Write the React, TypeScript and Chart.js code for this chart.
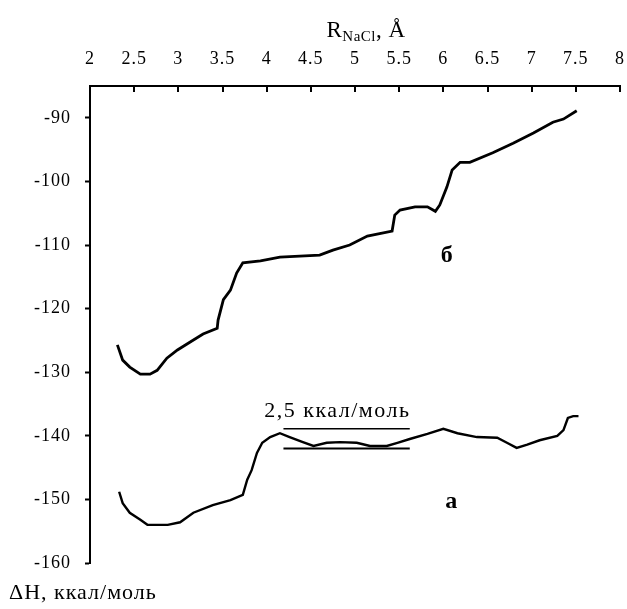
import React, { useEffect, useRef } from "react";
import { Chart, registerables } from "chart.js";

Chart.register(...registerables);

// Axis ticks
const xTickValues = [2, 2.5, 3, 3.5, 4, 4.5, 5, 5.5, 6, 6.5, 7, 7.5, 8];
const yTickValues = [-160, -150, -140, -130, -120, -110, -100, -90];

// Curve б (upper)
const curveBX = [2.31, 2.37, 2.45, 2.57, 2.68, 2.76, 2.87, 2.99, 3.13, 3.28, 3.44, 3.45, 3.51, 3.59, 3.66, 3.73, 3.93, 4.15, 4.6, 4.75, 4.94, 5.14, 5.42, 5.45, 5.51, 5.68, 5.82, 5.91, 5.96, 6.04, 6.1, 6.19, 6.3, 6.56, 6.79, 7.02, 7.24, 7.36, 7.51];
const curveBY = [-125.7, -128.1, -129.2, -130.3, -130.3, -129.7, -127.8, -126.5, -125.3, -124.0, -123.1, -121.8, -118.6, -117.1, -114.4, -112.8, -112.5, -111.9, -111.6, -110.8, -110.0, -108.6, -107.8, -105.3, -104.5, -104.0, -104.0, -104.7, -103.7, -100.9, -98.2, -97.0, -97.0, -95.5, -94.0, -92.4, -90.7, -90.2, -88.9];

// Curve а (lower)
const curveAX = [2.33, 2.37, 2.45, 2.57, 2.65, 2.88, 3.02, 3.17, 3.39, 3.59, 3.73, 3.78, 3.83, 3.89, 3.95, 4.04, 4.15, 4.26, 4.41, 4.53, 4.68, 4.83, 5.02, 5.17, 5.36, 5.48, 5.62, 5.82, 6.0, 6.16, 6.38, 6.61, 6.72, 6.83, 6.95, 7.09, 7.29, 7.36, 7.41, 7.47, 7.53];
const curveAY = [-148.8, -150.6, -152.1, -153.2, -154.0, -154.0, -153.6, -152.1, -150.9, -150.1, -149.3, -146.9, -145.4, -142.7, -141.1, -140.2, -139.6, -140.2, -141.0, -141.6, -141.1, -141.0, -141.1, -141.6, -141.6, -141.1, -140.5, -139.7, -138.9, -139.6, -140.2, -140.3, -141.1, -141.9, -141.4, -140.7, -140.0, -139.1, -137.2, -136.9, -136.9];

// 2,5 ккал/моль reference band
const refLineX = [4.19, 5.62];
const refUpperY = [-138.9, -138.9];
const refLowerY = [-142.0, -142.0];

const SERIF = '"Liberation Serif", "Times New Roman", serif';

const toPoints = (xs: number[], ys: number[]) => xs.map((x, i) => ({ x, y: ys[i] }));

const annotationsPlugin = {
  id: "customText",
  beforeDraw(chart: any) {
    (chart.ctx as any).letterSpacing = "1px";
  },
  afterDraw(chart: any) {
    const ctx = chart.ctx as any;
    const xs = chart.scales.x;
    const ys = chart.scales.y;
    const area = chart.chartArea;
    ctx.save();
    ctx.fillStyle = "#000";
    ctx.strokeStyle = "#000";

    // inward tick marks on top x axis
    ctx.lineWidth = 2;
    for (const v of xTickValues) {
      if (v === xs.min) continue;
      const px = Math.round(xs.getPixelForValue(v));
      ctx.beginPath();
      ctx.moveTo(px, area.top);
      ctx.lineTo(px, area.top + 6);
      ctx.stroke();
    }

    // x axis title R_NaCl, Å
    ctx.letterSpacing = "0.5px";
    const big = `23px ${SERIF}`;
    const small = `15px ${SERIF}`;
    ctx.textBaseline = "alphabetic";
    ctx.textAlign = "left";
    ctx.font = big;
    const wR = ctx.measureText("R").width;
    const wTail = ctx.measureText(", Å").width;
    ctx.font = small;
    const wSub = ctx.measureText("NaCl").width;
    const total = wR + wSub + wTail;
    let tx = xs.getPixelForValue(5.125) - total / 2;
    const ty = area.top - 49;
    ctx.font = big;
    ctx.fillText("R", tx, ty);
    tx += wR;
    ctx.font = small;
    ctx.fillText("NaCl", tx, ty + 4);
    tx += wSub;
    ctx.font = big;
    ctx.fillText(", Å", tx, ty);

    // y axis title below axis
    ctx.letterSpacing = "1px";
    ctx.font = `22px ${SERIF}`;
    ctx.fillText("ΔH, ккал/моль", area.left - 81, area.bottom + 36);

    // band label
    ctx.letterSpacing = "1.5px";
    ctx.textAlign = "left";
    ctx.font = `22px ${SERIF}`;
    const bandText = "2,5 ккал/моль";
    const bw = ctx.measureText(bandText).width;
    ctx.fillText(bandText, xs.getPixelForValue(4.8) - bw / 2, ys.getPixelForValue(-137.0));

    // curve labels
    ctx.letterSpacing = "0px";
    ctx.textAlign = "center";
    ctx.font = `bold 24px ${SERIF}`;
    ctx.textBaseline = "middle";
    ctx.fillText("б", xs.getPixelForValue(6.04), ys.getPixelForValue(-111.7));
    ctx.fillText("а", xs.getPixelForValue(6.09), ys.getPixelForValue(-150.3));
    ctx.restore();
  },
};

export default function App() {
  const canvasRef = useRef<HTMLCanvasElement | null>(null);

  useEffect(() => {
    if (!canvasRef.current) return;
    const lineDs = (label: string, xs: number[], ys: number[], w: number) => ({
      label,
      data: toPoints(xs, ys),
      borderColor: "#000",
      backgroundColor: "#000",
      borderWidth: w,
      pointRadius: 0,
      tension: 0,
      fill: false,
    });
    const chart = new Chart(canvasRef.current, {
      type: "line",
      data: {
        datasets: [
          lineDs("б", curveBX, curveBY, 2.8),
          lineDs("а", curveAX, curveAY, 2.4),
          lineDs("upper", refLineX, refUpperY, 1.5),
          lineDs("lower", refLineX, refLowerY, 1.8),
        ],
      },
      options: {
        responsive: false,
        animation: false,
        layout: { padding: { left: 0, right: 7, top: 0, bottom: 46 } },
        plugins: {
          legend: { display: false },
          tooltip: { enabled: false },
        },
        scales: {
          x: {
            type: "linear",
            position: "top",
            min: 2,
            max: 8,
            afterBuildTicks: (s: any) => {
              s.ticks = xTickValues.map((v) => ({ value: v }));
            },
            afterFit: (s: any) => {
              s.height = 86;
              s.paddingLeft = 0;
              s.paddingRight = 0;
            },
            grid: { display: false, drawTicks: false },
            border: { display: true, color: "#000", width: 2 },
            ticks: {
              color: "#000",
              font: { family: SERIF, size: 18 },
              padding: 16,
              maxRotation: 0,
              autoSkip: false,
              callback: (v: any) => String(v),
            },
          },
          y: {
            type: "linear",
            position: "left",
            min: -160,
            max: -85,
            afterBuildTicks: (s: any) => {
              s.ticks = yTickValues.map((v) => ({ value: v }));
            },
            afterFit: (s: any) => {
              s.width = 90;
              s.paddingTop = 0;
              s.paddingBottom = 0;
            },
            grid: {
              display: true,
              drawOnChartArea: false,
              drawTicks: true,
              tickLength: 5,
              tickWidth: 2,
              tickColor: "#000",
              color: "#000",
            },
            border: { display: true, color: "#000", width: 2 },
            ticks: {
              color: "#000",
              font: { family: SERIF, size: 18 },
              padding: 14,
              callback: (v: any) => String(v),
            },
          },
        },
      },
      plugins: [annotationsPlugin],
    });
    return () => chart.destroy();
  }, []);

  return (
    <div style={{ position: "fixed", left: 0, top: 0, width: 627, height: 609, background: "#fff" }}>
      <canvas ref={canvasRef} width={627} height={609} />
    </div>
  );
}
